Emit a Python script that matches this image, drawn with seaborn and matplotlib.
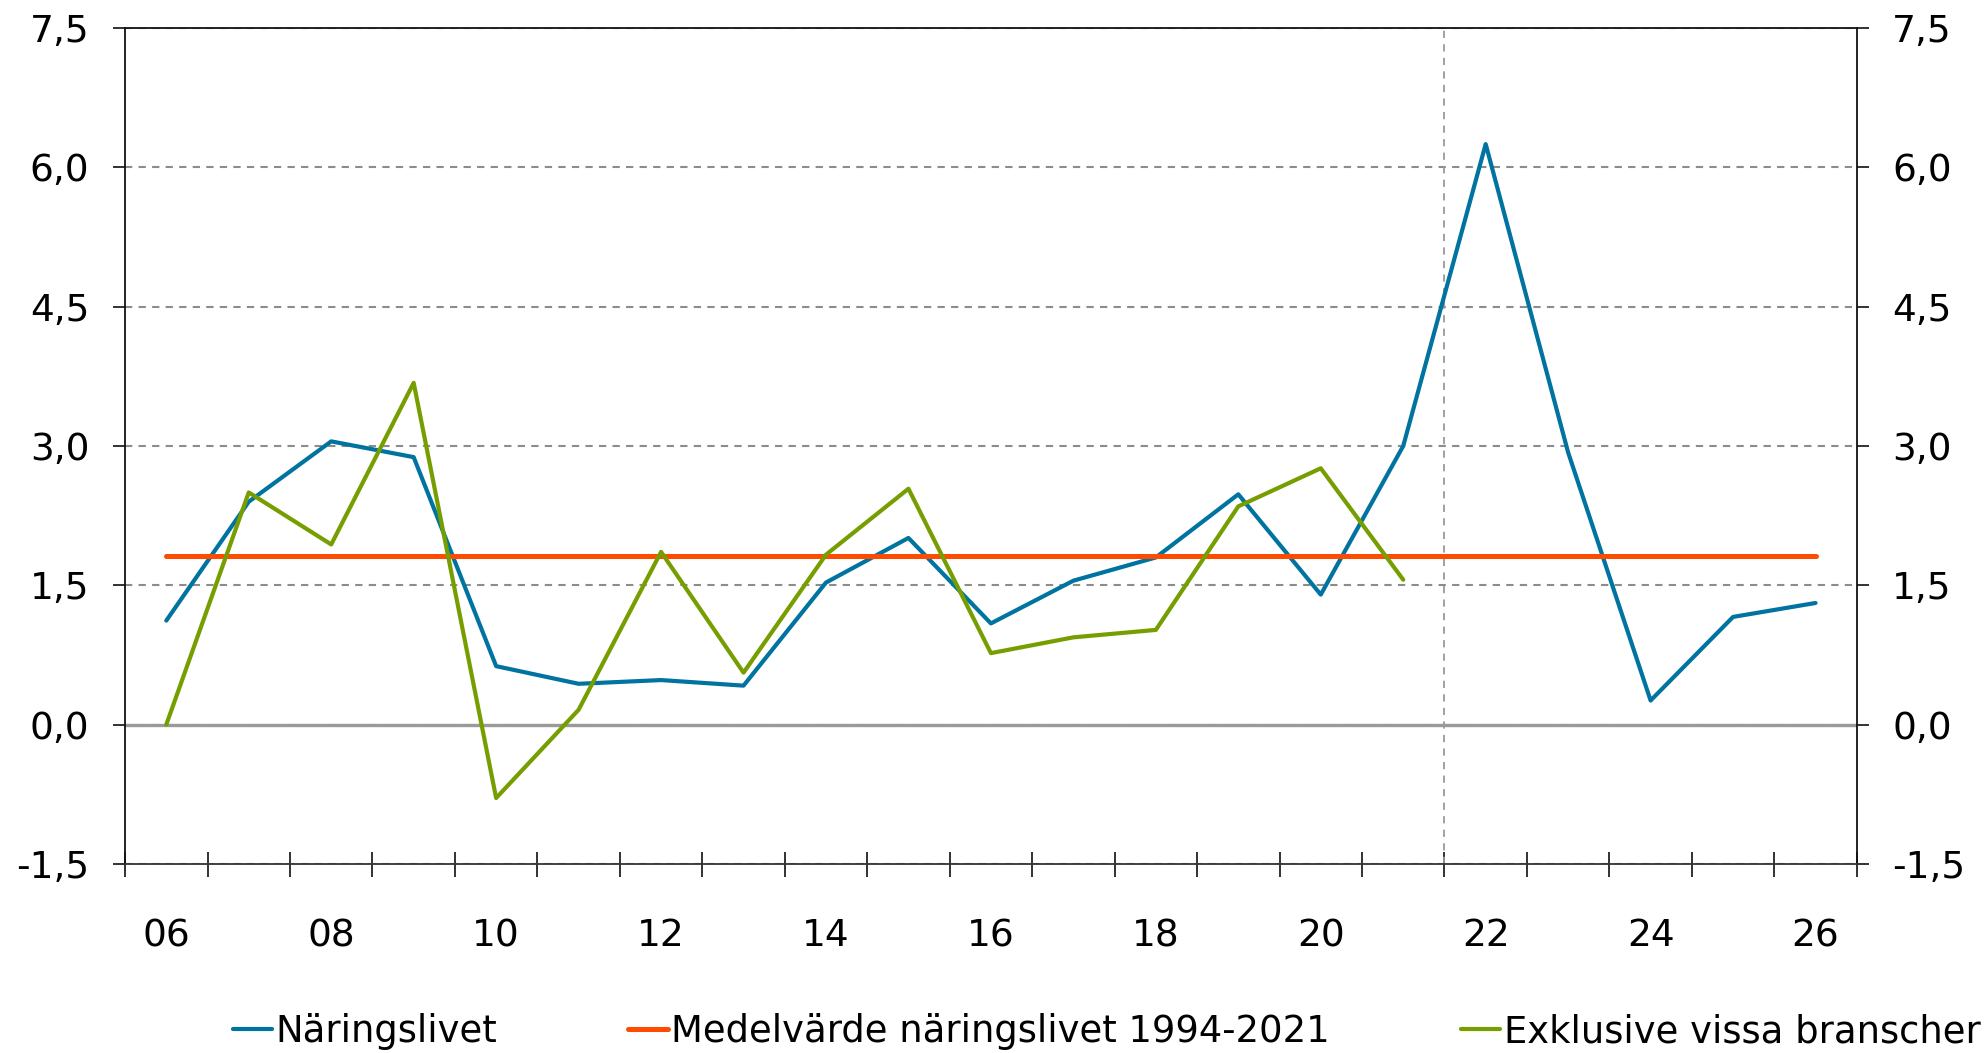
import matplotlib
matplotlib.use("Agg")
import matplotlib.pyplot as plt
import seaborn as sns
import pandas as pd
import numpy as np
from matplotlib.ticker import FixedLocator, FixedFormatter
from matplotlib.lines import Line2D

# ---------------- data ----------------
years = list(range(2006, 2027))
naringslivet = [1.12, 2.40, 3.05, 2.88, 0.63, 0.44, 0.48, 0.42, 1.53, 2.01,
                1.09, 1.55, 1.80, 2.48, 1.40, 3.00, 6.25, 2.93, 0.26, 1.16, 1.31]
exkl_years = list(range(2006, 2022))
exklusive = [0.00, 2.50, 1.94, 3.68, -0.79, 0.16, 1.86, 0.56, 1.83, 2.54,
             0.77, 0.94, 1.02, 2.35, 2.76, 1.56]
medel_years = [2006, 2026]
medel = [1.82, 1.82]

series_labels = ["Näringslivet", "Medelvärde näringslivet 1994-2021",
                 "Exklusive vissa branscher"]
colors = ["#0073A0", "#FF4B00", "#779E00"]

xtick_values = list(range(2006, 2027, 2))
xtick_labels = ["06", "08", "10", "12", "14", "16", "18", "20", "22", "24", "26"]
ytick_values = [-1.5, 0.0, 1.5, 3.0, 4.5, 6.0, 7.5]
ytick_labels = ["-1,5", "0,0", "1,5", "3,0", "4,5", "6,0", "7,5"]
forecast_divider = 2021.5

# ---------------- style ----------------
sns.set_style("white")
plt.rcParams["font.family"] = ["DejaVu Sans"]
plt.rcParams["text.color"] = "black"
plt.rcParams["xtick.color"] = "black"
plt.rcParams["ytick.color"] = "black"

fig = plt.figure(figsize=(19.85, 10.53), dpi=100)
ax = fig.add_axes([0.063, 0.1795, 0.8724, 0.7939])

df_n = pd.DataFrame({"year": years, "value": naringslivet})
df_m = pd.DataFrame({"year": medel_years, "value": medel})
df_e = pd.DataFrame({"year": exkl_years, "value": exklusive})

lw_data = 3.0
lw_mean = 3.6
ax.axhline(0, color="#9a9a9a", lw=2.4, zorder=1.5)
ax.axvline(forecast_divider, color="#9a9a9a", lw=1.3, ls=(0, (4, 3.5)), zorder=1.4)

sns.lineplot(data=df_n, x="year", y="value", ax=ax, color=colors[0],
             linewidth=lw_data, zorder=3, legend=False)
sns.lineplot(data=df_m, x="year", y="value", ax=ax, color=colors[1],
             linewidth=lw_mean, zorder=3.1, legend=False, solid_capstyle="round")
sns.lineplot(data=df_e, x="year", y="value", ax=ax, color=colors[2],
             linewidth=lw_data, zorder=3.2, legend=False)

ax.set_xlim(2005.5, 2026.5)
ax.set_ylim(-1.5, 7.5)
ax.set_xlabel("")
ax.set_ylabel("")

ax.grid(axis="y", color="#8c8c8c", linestyle=(0, (3.5, 3)), linewidth=1.5)
ax.grid(axis="x", visible=False)
ax.set_axisbelow(True)

ax.xaxis.set_major_locator(FixedLocator(xtick_values))
ax.xaxis.set_major_formatter(FixedFormatter(xtick_labels))
ax.xaxis.set_minor_locator(FixedLocator(np.arange(2005.5, 2027.0, 1.0)))
ax.tick_params(axis="x", which="major", length=0, pad=39, labelsize=27,
               labelcolor="black")
ax.tick_params(axis="x", which="minor", direction="inout", length=18,
               width=1.3, color="#222222", bottom=True)

ax.yaxis.set_major_locator(FixedLocator(ytick_values))
ax.yaxis.set_major_formatter(FixedFormatter(ytick_labels))
ax.tick_params(axis="y", which="major", direction="out", length=8.6, width=1.3,
               color="#222222", pad=17, labelsize=27, left=True, right=True,
               labelleft=True, labelright=True, labelcolor="black")

for side in ["left", "right", "bottom", "top"]:
    ax.spines[side].set_visible(True)
    ax.spines[side].set_color("#111111")
    ax.spines[side].set_linewidth(1.3)
ax.spines["bottom"].set_color("#333333")

handles = [Line2D([0], [0], color=colors[0], lw=lw_data),
           Line2D([0], [0], color=colors[1], lw=lw_mean),
           Line2D([0], [0], color=colors[2], lw=lw_data)]
leg = fig.legend(handles, series_labels, loc="center left",
                 bbox_to_anchor=(232.7 / 1985, 1 - 1031.7 / 1053), ncol=3,
                 frameon=False, fontsize=26.6, handlelength=1.06, handletextpad=0.1,
                 columnspacing=3.55, borderpad=0, borderaxespad=0)
for t in leg.get_texts():
    t.set_color("black")

fig.savefig("out.png", dpi=100)
